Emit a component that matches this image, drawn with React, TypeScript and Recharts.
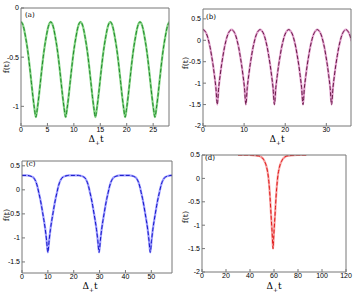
import { LineChart, Line, XAxis, YAxis } from "recharts";

// panel (a): one value every 0.2815 in Δ+t (20 per period)
const fA = [
  -0.14, -0.16, -0.21, -0.29, -0.38, -0.49, -0.62, -0.76, -0.9, -1.02, -1.11, -1.02, -0.9, -0.76, -0.62, -0.49, -0.38, -0.29, -0.21, -0.16,
  -0.14, -0.16, -0.21, -0.29, -0.38, -0.49, -0.62, -0.76, -0.9, -1.02, -1.11, -1.02, -0.9, -0.76, -0.62, -0.49, -0.38, -0.29, -0.21, -0.16,
  -0.14, -0.16, -0.21, -0.29, -0.38, -0.49, -0.62, -0.76, -0.9, -1.02, -1.11, -1.02, -0.9, -0.76, -0.62, -0.49, -0.38, -0.29, -0.21, -0.16,
  -0.14, -0.16, -0.21, -0.29, -0.38, -0.49, -0.62, -0.76, -0.9, -1.02, -1.11, -1.02, -0.9, -0.76, -0.62, -0.49, -0.38, -0.29, -0.21, -0.16,
  -0.14, -0.16, -0.21, -0.29, -0.38, -0.49, -0.62, -0.76, -0.9, -1.02, -1.11, -1.02, -0.9, -0.76, -0.62, -0.49, -0.38, -0.29, -0.21, -0.16,
  -0.14,
];
const stepA = 0.2815;

// panel (b): one value every 0.3475
const fB = [
  0.25, 0.23, 0.18, 0.1, -0.02, -0.17, -0.36, -0.57, -0.82, -1.1, -1.5, -1.1, -0.82, -0.57, -0.36, -0.17, -0.02, 0.1, 0.18, 0.23,
  0.25, 0.23, 0.18, 0.1, -0.02, -0.17, -0.36, -0.57, -0.82, -1.1, -1.5, -1.1, -0.82, -0.57, -0.36, -0.17, -0.02, 0.1, 0.18, 0.23,
  0.25, 0.23, 0.18, 0.1, -0.02, -0.17, -0.36, -0.57, -0.82, -1.1, -1.5, -1.1, -0.82, -0.57, -0.36, -0.17, -0.02, 0.1, 0.18, 0.23,
  0.25, 0.23, 0.18, 0.1, -0.02, -0.17, -0.36, -0.57, -0.82, -1.1, -1.5, -1.1, -0.82, -0.57, -0.36, -0.17, -0.02, 0.1, 0.18, 0.23,
  0.25, 0.23, 0.18, 0.1, -0.02, -0.17, -0.36, -0.57, -0.82, -1.1, -1.5, -1.1, -0.82, -0.57, -0.36, -0.17, -0.02, 0.1, 0.18, 0.23,
  0.25, 0.23, 0.18, 0.1, -0.02,
];
const stepB = 0.3475;

// panel (c)
const tC = [
  0,
  2, 3, 4, 4.5, 5, 5.5, 6, 6.5, 7, 7.5, 8, 8.5, 9, 9.5, 10, 10.5, 11, 11.5, 12, 12.5, 13, 13.5, 14, 14.5, 15, 15.5, 16, 17, 18,
  21.8, 22.8, 23.8, 24.3, 24.8, 25.3, 25.8, 26.3, 26.8, 27.3, 27.8, 28.3, 28.8, 29.3, 29.8, 30.3, 30.8, 31.3, 31.8, 32.3, 32.8, 33.3, 33.8, 34.3, 34.8, 35.3, 35.8, 36.8, 37.8,
  41.6, 42.6, 43.6, 44.1, 44.6, 45.1, 45.6, 46.1, 46.6, 47.1, 47.6, 48.1, 48.6, 49.1, 49.6, 50.1, 50.6, 51.1, 51.6, 52.1, 52.6, 53.1, 53.6, 54.1, 54.6, 55.1, 55.6, 56.6, 57.6,
  58,
];
const fC = [
  0.3,
  0.3, 0.29, 0.27, 0.25, 0.21, 0.15, 0.06, -0.06, -0.18, -0.32, -0.48, -0.64, -0.82, -1.05, -1.3, -1.05, -0.82, -0.64, -0.48, -0.32, -0.18, -0.06, 0.06, 0.15, 0.21, 0.25, 0.27, 0.29, 0.3,
  0.3, 0.29, 0.27, 0.25, 0.21, 0.15, 0.06, -0.06, -0.18, -0.32, -0.48, -0.64, -0.82, -1.05, -1.3, -1.05, -0.82, -0.64, -0.48, -0.32, -0.18, -0.06, 0.06, 0.15, 0.21, 0.25, 0.27, 0.29, 0.3,
  0.3, 0.29, 0.27, 0.25, 0.21, 0.15, 0.06, -0.06, -0.18, -0.32, -0.48, -0.64, -0.82, -1.05, -1.3, -1.05, -0.82, -0.64, -0.48, -0.32, -0.18, -0.06, 0.06, 0.15, 0.21, 0.25, 0.27, 0.29, 0.3,
  0.3,
];

// panel (d)
const tD = [
  30, 39.2, 44.2, 47.2, 49.2, 51.2, 52.2, 53.2, 54.2, 55.2, 55.7, 56.2, 56.7, 57.2, 57.7, 58.2, 58.7, 59.2,
  59.7, 60.2, 60.7, 61.2, 61.7, 62.2, 62.7, 63.2, 64.2, 65.2, 66.2, 67.2, 69.2, 71.2, 74.2, 79.2, 87,
];
const fD = [
  0.5, 0.5, 0.49, 0.48, 0.46, 0.41, 0.36, 0.3, 0.2, 0.05, -0.07, -0.22, -0.4, -0.62, -0.85, -1.05, -1.28, -1.5,
  -1.28, -1.05, -0.85, -0.62, -0.4, -0.22, -0.07, 0.05, 0.2, 0.3, 0.36, 0.41, 0.46, 0.48, 0.49, 0.5, 0.5,
];

const ticksXA = [0, 5, 10, 15, 20, 25];
const ticksYA = [0, -0.5, -1];
const ticksXB = [0, 10, 20, 30];
const ticksYB = [0.5, 0, -0.5, -1, -1.5, -2];
const ticksXC = [0, 10, 20, 30, 40, 50];
const ticksYC = [0.5, 0, -0.5, -1, -1.5];
const ticksXD = [0, 20, 40, 60, 80, 100, 120];
const ticksYD = [0.5, 0, -0.5, -1, -1.5, -2];

type Pt = { t: number; f: number };

const tickFont = { fontSize: 7, fill: "#000", fontFamily: "Liberation Sans" };
const frame = "#777";

function Panel(props: {
  x: number; y: number; data: Pt[];
  xDomain: number[]; yDomain: number[]; xTicks: number[]; yTicks: number[];
  plot: { l: number; t: number; r: number; b: number };
  light: string; dark: string;
}) {
  const { plot } = props;
  return (
    <div style={{ position: "absolute", left: props.x, top: props.y }}>
      <LineChart width={179} height={147} data={props.data}
        margin={{ left: plot.l - 20, top: plot.t - 2, right: plot.r - 2, bottom: plot.b - 16 }}>
        <XAxis xAxisId="b" dataKey="t" type="number" domain={props.xDomain} ticks={props.xTicks}
          allowDataOverflow height={16} tickSize={-3} tickMargin={4} interval={0}
          stroke={frame} tick={tickFont} />
        <XAxis xAxisId="t" orientation="top" dataKey="t" type="number" domain={props.xDomain} ticks={props.xTicks}
          allowDataOverflow height={2} tickSize={-3} tick={false} stroke={frame} />
        <YAxis yAxisId="l" type="number" domain={props.yDomain} ticks={props.yTicks}
          allowDataOverflow width={20} tickSize={-3} tickMargin={5} interval={0}
          stroke={frame} tick={tickFont} />
        <YAxis yAxisId="r" orientation="right" type="number" domain={props.yDomain} ticks={props.yTicks}
          allowDataOverflow width={2} tickSize={-3} tick={false} stroke={frame} />
        <Line xAxisId="b" yAxisId="l" dataKey="f" type="monotone" stroke={props.light} strokeWidth={2.2}
          dot={false} isAnimationActive={false} />
        <Line xAxisId="b" yAxisId="l" dataKey="f" type="monotone" stroke={props.dark} strokeWidth={1}
          strokeDasharray="4 2" dot={false} isAnimationActive={false} />
      </LineChart>
    </div>
  );
}

function XTitle({ x, y }: { x: number; y: number }) {
  return (
    <text x={x} y={y} textAnchor="middle" fontFamily="DejaVu Serif" fontSize={9} fill="#000">
      <tspan>Δ</tspan>
      <tspan dy={2.5} fontSize={6}>+</tspan>
      <tspan dy={-2.5}>t</tspan>
    </text>
  );
}

function YTitle({ x, y }: { x: number; y: number }) {
  return (
    <text x={x} y={y} textAnchor="middle" fontFamily="DejaVu Serif" fontSize={8} fill="#000"
      transform={`rotate(-90 ${x} ${y})`}>f(t)</text>
  );
}

function Tag({ x, y, s }: { x: number; y: number; s: string }) {
  return (
    <text x={x} y={y} fontFamily="DejaVu Serif" fontSize={7} fill="#000">{s}</text>
  );
}

export default function App() {
  const dataA = fA.map((f, i) => ({ t: i * stepA, f }));
  const dataB = fB.map((f, i) => ({ t: i * stepB, f }));
  const dataC = tC.map((t, i) => ({ t, f: fC[i] }));
  const dataD = tD.map((t, i) => ({ t, f: fD[i] }));
  return (
    <div style={{ position: "absolute", left: 0, top: 0, width: 358, height: 294, background: "#fff" }}>
      <Panel x={0} y={0} data={dataA} xDomain={[0, 28]} yDomain={[-1.2, 0]} xTicks={ticksXA} yTicks={ticksYA}
        plot={{ l: 21, t: 8, r: 10, b: 21 }} light="#86d486" dark="#1f8a2a" />
      <Panel x={179} y={0} data={dataB} xDomain={[0, 36]} yDomain={[-2, 0.73]} xTicks={ticksXB} yTicks={ticksYB}
        plot={{ l: 24, t: 9, r: 7, b: 21 }} light="#e0a0cc" dark="#6a1848" />
      <Panel x={0} y={147} data={dataC} xDomain={[0, 58]} yDomain={[-1.73, 0.6]} xTicks={ticksXC} yTicks={ticksYC}
        plot={{ l: 22, t: 14, r: 7, b: 21 }} light="#9d9dff" dark="#1616c8" />
      <Panel x={179} y={147} data={dataD} xDomain={[0, 120]} yDomain={[-2, 0.5]} xTicks={ticksXD} yTicks={ticksYD}
        plot={{ l: 23, t: 8, r: 12, b: 22 }} light="#f7a4a4" dark="#e01818" />
      <svg width={358} height={294} style={{ position: "absolute", left: 0, top: 0, pointerEvents: "none" }}>
        <XTitle x={96} y={142} />
        <XTitle x={277} y={142} />
        <XTitle x={90} y={289} />
        <XTitle x={274} y={289} />
        <YTitle x={9} y={67} />
        <YTitle x={188} y={63} />
        <YTitle x={9} y={215} />
        <YTitle x={188} y={217} />
        <Tag x={25} y={17} s="(a)" />
        <Tag x={206} y={19} s="(b)" />
        <Tag x={26} y={166} s="(c)" />
        <Tag x={205} y={160} s="(d)" />
      </svg>
    </div>
  );
}
